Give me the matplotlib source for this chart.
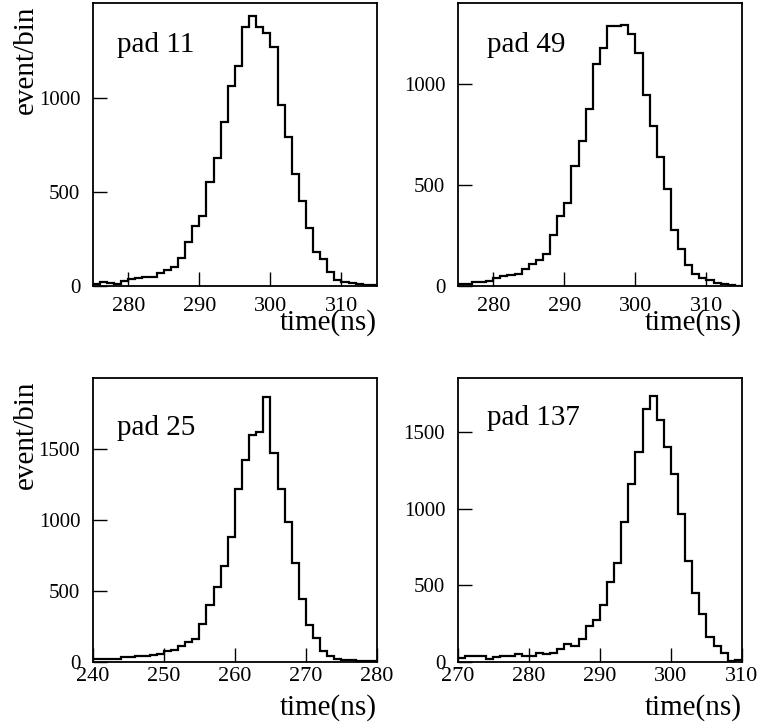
import numpy as np
import matplotlib
matplotlib.use('Agg')
import matplotlib.pyplot as plt

plt.rcParams['font.family'] = ['Liberation Serif', 'DejaVu Serif']

# pad 11, 1 ns bins from 275 to 315
pad11_range = [275, 315]
pad11_counts = [10, 20, 14, 12, 28, 35, 44, 46, 50, 67,
                85, 102, 147, 231, 320, 371, 551, 678, 871, 1060,
                1168, 1375, 1435, 1375, 1345, 1269, 963, 790, 595, 450,
                309, 178, 141, 72, 32, 20, 16, 10, 4, 4]

# pad 49, 1 ns bins from 275 to 315
pad49_range = [275, 315]
pad49_counts = [12, 12, 18, 21, 25, 41, 48, 53, 58, 83,
                107, 129, 157, 253, 344, 413, 593, 719, 878, 1099,
                1178, 1288, 1284, 1291, 1245, 1154, 944, 793, 636, 481,
                279, 182, 106, 61, 38, 28, 15, 10, 7, 2]

# pad 25, 1 ns bins from 240 to 280
pad25_range = [240, 280]
pad25_counts = [16, 21, 16, 21, 33, 31, 42, 38, 45, 52,
                75, 80, 110, 141, 160, 266, 400, 524, 675, 877,
                1218, 1423, 1599, 1617, 1865, 1470, 1216, 983, 698, 442,
                259, 165, 78, 40, 21, 14, 9, 7, 5, 2]

# pad 137, 1 ns bins from 270 to 310
pad137_range = [270, 310]
pad137_counts = [26, 35, 39, 35, 17, 33, 37, 37, 50, 35,
                 35, 57, 48, 59, 83, 114, 105, 151, 231, 271,
                 369, 521, 642, 915, 1162, 1373, 1651, 1734, 1576, 1404,
                 1227, 965, 659, 452, 310, 159, 105, 57, 4, 9]

panels = [
    ('pad 11', pad11_range, pad11_counts, 1502, [280, 290, 300, 310], [0, 500, 1000], (0.085, 0.827)),
    ('pad 49', pad49_range, pad49_counts, 1400, [280, 290, 300, 310], [0, 500, 1000], (0.102, 0.827)),
    ('pad 25', pad25_range, pad25_counts, 2000, [240, 250, 260, 270, 280], [0, 500, 1000, 1500], (0.087, 0.799)),
    ('pad 137', pad137_range, pad137_counts, 1853, [270, 280, 290, 300, 310], [0, 500, 1000, 1500], (0.102, 0.834)),
]

boxes = [
    [0.1217, 0.6055, 0.3731, 0.3903],
    [0.6007, 0.6055, 0.3731, 0.3903],
    [0.1217, 0.0873, 0.3731, 0.3913],
    [0.6007, 0.0873, 0.3731, 0.3913],
]

fig = plt.figure(figsize=(7.62, 7.25), dpi=100)

for i, (name, xr, counts, ytop, xt, yt, tpos) in enumerate(panels):
    ax = fig.add_axes(boxes[i])
    edges = np.linspace(xr[0], xr[1], len(counts) + 1)
    ax.stairs(counts, edges, color='black', linewidth=1.6, baseline=None)
    ax.set_xlim(xr[0], xr[1])
    ax.set_ylim(0, ytop)
    ax.set_xticks(xt)
    ax.set_yticks(yt)
    ax.tick_params(direction='in', length=10, width=1,
                   top=False, right=False)
    top_row = i < 2
    ax.tick_params(axis='x', labelsize=16, pad=8 if top_row else 3.5)
    ax.tick_params(axis='y', labelsize=15, pad=9)
    for s in ax.spines.values():
        s.set_linewidth(1.3)
    ax.text(tpos[0], tpos[1], name, transform=ax.transAxes, fontsize=21,
            ha='left', va='baseline')
    ax.text(1.0, -0.155 if top_row else -0.187, 'time(ns)', transform=ax.transAxes,
            fontsize=21, ha='right', va='baseline')
    if i % 2 == 0:
        ax.text(-0.236, 0.993, 'event/bin', transform=ax.transAxes, fontsize=21,
                rotation=90, ha='center', va='top')

fig.savefig('out.png', dpi=100)
